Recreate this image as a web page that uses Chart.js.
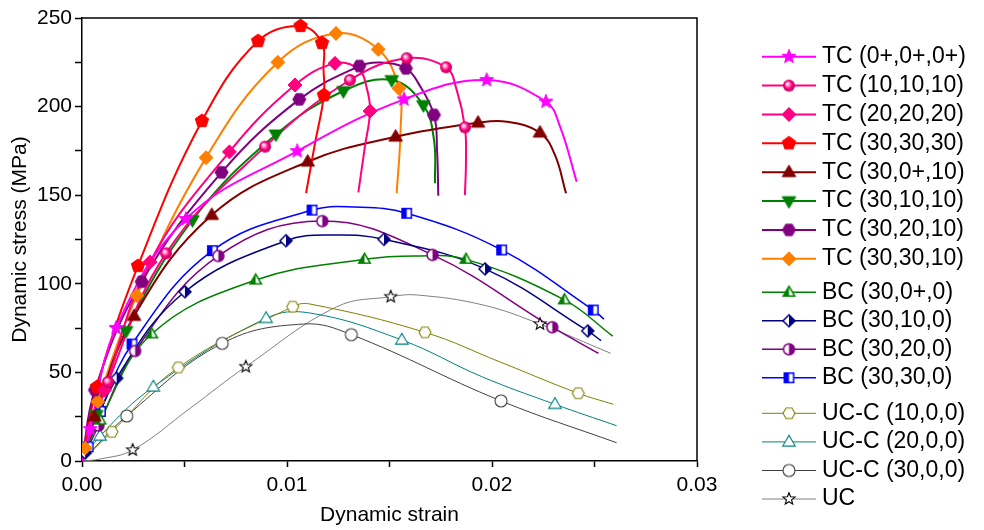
<!DOCTYPE html>
<html><head><meta charset="utf-8">
<script src="https://cdn.jsdelivr.net/npm/chart.js@4/dist/chart.umd.min.js"></script>
<style>html,body{margin:0;padding:0;background:#fff}#wrap{width:984px;height:530px;position:relative}</style>
</head><body><div id="wrap"><canvas id="c" width="984" height="530"></canvas></div>
<script>
// ---------- data (strain, stress in MPa) ----------
const seriesNames = ['TC (0+,0+,0+)','TC (10,10,10)','TC (20,20,20)','TC (30,30,30)','TC (30,0+,10)','TC (30,10,10)','TC (30,20,10)','TC (30,30,10)','BC (30,0+,0)','BC (30,10,0)','BC (30,20,0)','BC (30,30,0)','UC-C (10,0,0)','UC-C (20,0,0)','UC-C (30,0,0)','UC'];

const tc000 = [[0,0],[0.0004,18],[0.00166,75.1],[0.00507,136.6],[0.0105,174.9],[0.01571,204.1],[0.01974,215.0],[0.02263,202.8],[0.02332,188.7],[0.02413,157.6]];
const tc101010 = [[0,0],[0.00127,44.6],[0.0041,117.2],[0.00893,177.4],[0.01307,215.0],[0.01584,227.3],[0.01776,222.2],[0.01828,209.3],[0.01868,188.3],[0.01873,169.9],[0.01868,150.1]];
const tc202020 = [[0,0],[0.0011,40],[0.00332,112.3],[0.00719,174.5],[0.01039,212.2],[0.01234,224.4],[0.0135,221],[0.0139,210],[0.01405,197.5],[0.0138,177.4],[0.01348,151.6]];
const tc303030 = [[0,0],[0.00073,41.8],[0.00273,110.1],[0.00585,191.9],[0.00859,237.0],[0.01066,245.5],[0.01171,235.9],[0.01178,221],[0.0118,206.5],[0.01137,179.5],[0.01093,151.2]];
const tc30010 = [[0,0],[0.0006,25],[0.00254,81.8],[0.00633,138.8],[0.01101,168.9],[0.0153,183.0],[0.01932,190.9],[0.02072,191.5],[0.02234,185.3],[0.02307,172.7],[0.02361,151.1]];
const tc301010 = [[0,0],[0.0007,26],[0.00215,73.4],[0.00539,136.0],[0.00946,184.3],[0.01275,208.8],[0.01511,215.0],[0.01665,200.9],[0.01717,181.2],[0.01722,156.7]];
const tc302010 = [[0,0],[0.00063,40.1],[0.00291,101.2],[0.00681,162.9],[0.0106,204.1],[0.01353,222.9],[0.01454,224.9],[0.0158,221.6],[0.01641,213.1],[0.01717,195.3],[0.01732,175.5],[0.01738,149.7]];
const tc303010 = [[0,0],[0.00015,7.3],[0.00077,33.5],[0.00267,93.4],[0.00605,171.2],[0.00955,225.0],[0.01239,241.3],[0.01445,232.3],[0.01546,210.3],[0.01554,186.8],[0.01535,151.1]];
const bc3000 = [[0,0],[0.00088,23.1],[0.0034,71.7],[0.00847,102.1],[0.01378,113.8],[0.01624,115.7],[0.01873,113.8],[0.02353,90.9],[0.02589,70.5]];
const bc30100 = [[0,0],[0.00015,4.5],[0.00169,46.7],[0.00502,95.5],[0.00995,124.3],[0.01234,127.5],[0.01473,125.1],[0.01966,108.4],[0.02467,73.4],[0.02532,67.9]];
const bc30200 = [[0,0],[0.0008,20],[0.00259,62.1],[0.00665,115.7],[0.01172,135.4],[0.0171,116.3],[0.02294,75.5],[0.02519,60.8]];
const bc30300 = [[0,0],[0.0003,8],[0.0009,28],[0.00244,66.0],[0.00636,118.7],[0.01122,141.6],[0.01332,143.3],[0.01584,139.8],[0.02047,119.1],[0.02494,85.2],[0.02546,80.1]];
const ucc10 = [[0,0],[0.00146,16.5],[0.0047,52.8],[0.01028,87.1],[0.01112,88.6],[0.01673,72.6],[0.02039,55.9],[0.02421,38.2],[0.02592,32.0]];
const ucc20 = [[0,0],[0.00088,14.1],[0.00348,41.8],[0.00898,80.5],[0.01112,83.5],[0.0156,68.3],[0.0195,47.6],[0.02307,32.0],[0.02608,19.9]];
const ucc30 = [[0,0],[0.00218,25.4],[0.00684,66.4],[0.0108,77.3],[0.01314,71.3],[0.02044,33.9],[0.02608,10.3]];
const uc = [[0,0],[0.00088,1.1],[0.00247,6.2],[0.0053,30],[0.00799,53.2],[0.01242,87],[0.01506,92.7],[0.01633,93.7],[0.01958,88],[0.02234,77.3],[0.02579,60.8]];

const curves = [tc000,tc101010,tc202020,tc303030,tc30010,tc301010,tc302010,tc303010,bc3000,bc30100,bc30200,bc30300,ucc10,ucc20,ucc30,uc];

// ---------- styles ----------
const looks = [
 {color:'#FF00FF', shape:'star', fill:'solid', size:14, lw:2, marks:[1,2,3,4,5,6,7]},
 {color:'#FF0080', shape:'circle', fill:'ball', size:12, lw:2, marks:[1,2,3,4,5,6,8]},
 {color:'#FF0080', shape:'diamond', fill:'solid', size:14, lw:2, marks:[1,2,3,4,5,8]},
 {color:'#FF0000', shape:'pentagon', fill:'solid', size:14, lw:2, marks:[1,2,3,4,5,6,8]},
 {color:'#800000', shape:'triUp', fill:'solid', size:13, lw:2, marks:[1,2,3,4,5,6,8]},
 {color:'#008000', shape:'triDown', fill:'solid', size:13, lw:2, marks:[1,2,3,4,5,6,7]},
 {color:'#800080', shape:'hexagon', fill:'solid', size:13, lw:2, marks:[1,2,3,4,5,7,9]},
 {color:'#FF8000', shape:'diamond', fill:'solid', size:14, lw:2, marks:[1,2,3,4,5,6,7,8]},
 {color:'#008000', shape:'triUp', fill:'halfL', size:11, lw:1.5, marks:[1,2,3,4,6,7]},
 {color:'#000080', shape:'diamond', fill:'halfR', size:12, lw:1.5, marks:[1,2,3,4,6,7,8]},
 {color:'#800080', shape:'circle', fill:'halfR', size:11, lw:1.5, marks:[1,2,3,4,5,6]},
 {color:'#0000FF', shape:'square', fill:'halfL', size:11, lw:1.5, marks:[1,2,3,4,5,7,8,9]},
 {color:'#808000', shape:'hexagon', fill:'open', size:12, lw:1, marks:[1,2,3,5,7]},
 {color:'#008080', shape:'triUp', fill:'open', size:12, lw:1, marks:[1,2,3,5,7]},
 {color:'#404040', shape:'circle', fill:'open', size:12, lw:1, marks:[1,2,4,5]},
 {color:'#808080', shape:'star', fill:'open', size:12, lw:1, markColor:'#000', marks:[2,4,6,9]}
];
const legendRows = [56.7,85.6,114.5,143.3,172.2,201.1,229.9,258.8,292.3,320.8,349.3,377.8,413.3,441.9,470.5,499];
const FONT = "'Liberation Sans', Arial, sans-serif";

function shapePath(g, shape, cx, cy, r) {
  g.beginPath();
  const poly = (n, rot, rr) => {
    for (let k = 0; k < n; k++) {
      const a = rot + k * 2 * Math.PI / n;
      const px = cx + rr * Math.cos(a), py = cy + rr * Math.sin(a);
      if (k) g.lineTo(px, py); else g.moveTo(px, py);
    }
    g.closePath();
  };
  switch (shape) {
    case 'circle': g.arc(cx, cy, r, 0, 2 * Math.PI); break;
    case 'square': g.rect(cx - r * 0.85, cy - r * 0.85, r * 1.7, r * 1.7); break;
    case 'diamond': poly(4, -Math.PI / 2, r); break;
    case 'pentagon': poly(5, -Math.PI / 2, r); break;
    case 'hexagon': poly(6, 0, r); break;
    case 'triUp': { const h = r * 1.1; g.moveTo(cx, cy - h); g.lineTo(cx + h * 0.95, cy + h * 0.62); g.lineTo(cx - h * 0.95, cy + h * 0.62); g.closePath(); break; }
    case 'triDown': { const h = r * 1.1; g.moveTo(cx, cy + h); g.lineTo(cx + h * 0.95, cy - h * 0.62); g.lineTo(cx - h * 0.95, cy - h * 0.62); g.closePath(); break; }
    case 'star': {
      for (let k = 0; k < 10; k++) {
        const rr = k % 2 ? r * 0.45 : r * 1.05;
        const a = -Math.PI / 2 + k * Math.PI / 5;
        const px = cx + rr * Math.cos(a), py = cy + rr * Math.sin(a);
        if (k) g.lineTo(px, py); else g.moveTo(px, py);
      }
      g.closePath(); break;
    }
  }
}

function makeMarker(L) {
  const s = L.size, d = Math.ceil(s + 6);
  const c = document.createElement('canvas');
  c.width = d; c.height = d;
  const g = c.getContext('2d');
  const cx = d / 2, cy = d / 2, r = s / 2;
  const col = L.markColor || L.color;
  g.lineJoin = 'miter';
  shapePath(g, L.shape, cx, cy, r);
  if (L.fill === 'solid') {
    g.fillStyle = col; g.fill(); g.lineWidth = 1; g.strokeStyle = col; g.stroke();
  } else if (L.fill === 'ball') {
    const gr = g.createRadialGradient(cx - r * 0.3, cy - r * 0.35, r * 0.05, cx, cy, r);
    gr.addColorStop(0, '#ffffff'); gr.addColorStop(0.25, '#ff9fd0'); gr.addColorStop(0.6, col); gr.addColorStop(1, '#c0005f');
    g.fillStyle = gr; g.fill();
  } else {
    g.fillStyle = '#fff'; g.fill();
    if (L.fill === 'halfL' || L.fill === 'halfR') {
      g.save(); g.clip(); g.fillStyle = col;
      if (L.fill === 'halfL') g.fillRect(0, 0, cx, d); else g.fillRect(cx, 0, d - cx, d);
      g.restore();
      shapePath(g, L.shape, cx, cy, r);
    }
    g.lineWidth = L.lw > 1 ? 1.5 : 1.1; g.strokeStyle = col; g.stroke();
  }
  return c;
}

const markerImgs = looks.map(makeMarker);

const datasets = [];
curves.forEach((pts, i) => {
  const L = looks[i];
  datasets.push({
    label: seriesNames[i], data: pts.map(p => ({x: p[0], y: p[1]})),
    showLine: true, borderColor: L.color, borderWidth: L.lw, pointRadius: 0, pointHoverRadius: 0,
    tension: 0.4, fill: false, order: 2
  });
  datasets.push({
    label: seriesNames[i] + ' markers', data: L.marks.map(k => ({x: pts[k][0], y: pts[k][1]})),
    showLine: false, pointStyle: markerImgs[i], pointRadius: 6, pointHoverRadius: 6, order: 1
  });
});

const framePlugin = {
  id: 'frame',
  afterDatasetsDraw(chart) {
    const {ctx: g, chartArea: a} = chart;
    g.save(); g.strokeStyle = '#000'; g.lineWidth = 1.5;
    g.beginPath(); g.moveTo(a.left, a.top); g.lineTo(a.right, a.top); g.lineTo(a.right, a.bottom); g.stroke();
    g.restore();
  }
};

const legendPlugin = {
  id: 'sideLegend',
  afterDraw(chart) {
    const g = chart.ctx;
    g.save();
    seriesNames.forEach((n, i) => {
      const y = legendRows[i], L = looks[i];
      g.strokeStyle = L.color; g.lineWidth = L.lw;
      g.beginPath(); g.moveTo(762, y); g.lineTo(816, y); g.stroke();
      const m = markerImgs[i];
      g.drawImage(m, 789 - m.width / 2, y - m.height / 2);
      g.fillStyle = '#000'; g.font = '23px ' + FONT; g.textBaseline = 'middle'; g.textAlign = 'left';
      g.fillText(n, 822, y);
    });
    g.restore();
  }
};

Chart.defaults.font.family = FONT;
Chart.defaults.color = '#000';

new Chart(document.getElementById('c'), {
  type: 'scatter',
  data: {datasets},
  options: {
    responsive: false, animation: false, events: [],
    layout: {padding: {left: 0, top: 18, right: 287, bottom: 0}},
    plugins: {legend: {display: false}, tooltip: {enabled: false}},
    scales: {
      x: {
        type: 'linear', min: 0, max: 0.03,
        afterFit(s) { s.height = 69; },
        ticks: {stepSize: 0.005, autoSkip: false, maxRotation: 0, padding: 6, font: {size: 21}, color: '#000',
          callback(v) { const k = Math.round(v * 1000); return k % 10 === 0 ? v.toFixed(2) : ''; }},
        grid: {drawOnChartArea: false, tickLength: 6, tickColor: '#000', tickWidth: 1.5},
        border: {display: true, color: '#000', width: 1.5},
        title: {display: true, text: 'Dynamic strain', font: {size: 21}, color: '#000', padding: {top: 0, bottom: 2}}
      },
      y: {
        type: 'linear', min: 0, max: 250,
        afterFit(s) { s.width = 82; },
        ticks: {stepSize: 25, autoSkip: false, padding: 3, font: {size: 21}, color: '#000',
          callback(v) { return Math.round(v) % 50 === 0 ? String(Math.round(v)) : ''; }},
        grid: {drawOnChartArea: false, tickLength: 7, tickColor: '#000', tickWidth: 1.5},
        border: {display: true, color: '#000', width: 1.5},
        title: {display: true, text: 'Dynamic stress (MPa)', font: {size: 21}, color: '#000', padding: {top: 8, bottom: 0}}
      }
    }
  },
  plugins: [framePlugin, legendPlugin]
});
</script>
</body></html>
